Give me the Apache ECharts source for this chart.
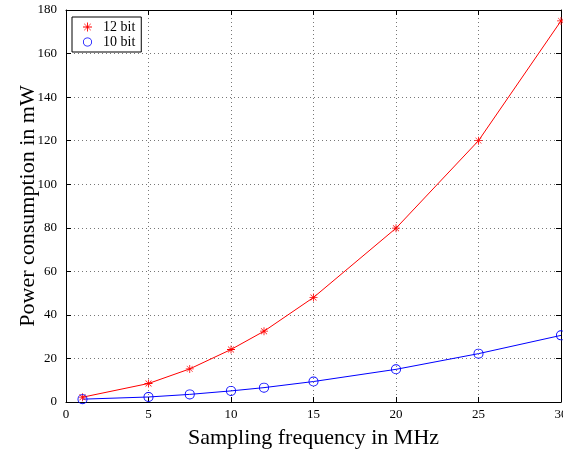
<!DOCTYPE html>
<html>
<head>
<meta charset="utf-8">
<script src="https://cdn.jsdelivr.net/npm/echarts@6/dist/echarts.min.js"></script>
<style>
  html, body { margin: 0; padding: 0; background: #fff; }
  #chart { width: 563px; height: 453px; }
</style>
</head>
<body>
<div id="chart"></div>
<script>
// data
var freqMHz = [1, 5, 7.5, 10, 12, 15, 20, 25, 30];
var power12bit = [2.2, 8.5, 15.2, 24.1, 32.5, 48, 79.8, 120, 175];
var power10bit = [1.3, 2.3, 3.5, 5.1, 6.6, 9.4, 15, 22.2, 30.6];

var font = '"Liberation Serif", "DejaVu Serif", serif';
// asterisk and thin ring markers
var starPath = 'path://M9,0H11V20H9Z M0,9H20V11H0Z M2,3L3,2L18,17L17,18Z M17,2L18,3L3,18L2,17Z';
var ringPath = 'path://M0,10A10,10 0 1,0 20,10A10,10 0 1,0 0,10Z M1.8,10A8.2,8.2 0 1,1 18.2,10A8.2,8.2 0 1,1 1.8,10Z';

function pairs(xs, ys) {
  return xs.map(function (x, i) { return [x, ys[i]]; });
}

var chart = echarts.init(document.getElementById('chart'));

var gridLine = { show: true, lineStyle: { color: '#777', type: [1, 3], width: 1 } };
var boxLine = { show: true, onZero: false, lineStyle: { color: '#000', width: 1 } };
var inTick = { show: true, inside: true, length: 5, lineStyle: { color: '#000' } };

var option = {
  animation: false,
  backgroundColor: '#fff',
  grid: { left: 66, right: 2, top: 10, bottom: 51, containLabel: false, outerBoundsMode: 'none' },
  legend: {
    left: 72, top: 17,
    orient: 'vertical',
    backgroundColor: '#fff',
    borderColor: '#000', borderWidth: 1,
    padding: [3, 6, 3, 11],
    itemGap: 1,
    itemWidth: 9, itemHeight: 9,
    textStyle: { fontFamily: font, fontSize: 14, color: '#000', padding: [0, 0, 0, 6] },
    data: [
      { name: '12 bit', icon: starPath },
      { name: '10 bit', icon: ringPath }
    ]
  },
  xAxis: [{
    type: 'value', min: 0, max: 30, interval: 5,
    name: 'Sampling frequency in MHz', nameLocation: 'middle', nameGap: 25, nameMoveOverlap: false,
    nameTextStyle: { fontFamily: font, fontSize: 22, color: '#000' },
    axisLine: boxLine, axisTick: inTick,
    axisLabel: { fontFamily: font, fontSize: 13, color: '#000', margin: 6 },
    splitLine: gridLine
  }, {
    type: 'value', min: 0, max: 30, interval: 5, position: 'top',
    axisLine: boxLine, axisTick: inTick,
    axisLabel: { show: false }, splitLine: { show: false }
  }],
  yAxis: [{
    type: 'value', min: 0, max: 180, interval: 20,
    name: 'Power consumption in mW', nameLocation: 'middle', nameGap: 27, nameMoveOverlap: false,
    nameTextStyle: { fontFamily: font, fontSize: 22, color: '#000' },
    axisLine: boxLine, axisTick: inTick,
    axisLabel: { fontFamily: font, fontSize: 13, color: '#000', margin: 9 },
    splitLine: gridLine
  }, {
    type: 'value', min: 0, max: 180, interval: 20, position: 'right',
    axisLine: boxLine, axisTick: inTick,
    axisLabel: { show: false }, splitLine: { show: false }
  }],
  series: [{
    name: '12 bit', type: 'line',
    data: pairs(freqMHz, power12bit),
    symbol: starPath, symbolSize: 8,
    lineStyle: { color: '#ff0000', width: 1 },
    itemStyle: { color: '#ff0000', borderWidth: 0 },
    clip: false
  }, {
    name: '10 bit', type: 'line',
    data: pairs(freqMHz, power10bit),
    symbol: ringPath, symbolSize: 10,
    lineStyle: { color: '#0000ff', width: 1 },
    itemStyle: { color: '#0000ff', borderWidth: 0 },
    clip: false
  }]
};

chart.setOption(option);
</script>
</body>
</html>
